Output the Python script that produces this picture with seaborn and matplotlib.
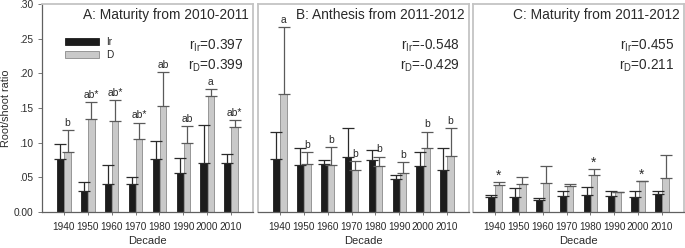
import numpy as np
import pandas as pd
import matplotlib
matplotlib.use("Agg")
import matplotlib.pyplot as plt
import seaborn as sns
from matplotlib.patches import Patch
from matplotlib.ticker import FuncFormatter

decades = ["1940", "1950", "1960", "1970", "1980", "1990", "2000", "2010"]

# panel A: maturity 2010-2011
a_ir = [0.076, 0.031, 0.040, 0.041, 0.077, 0.056, 0.071, 0.070]
a_ir_se = [0.022, 0.012, 0.028, 0.010, 0.026, 0.022, 0.054, 0.014]
a_d = [0.0865, 0.134, 0.131, 0.105, 0.153, 0.099, 0.167, 0.123]
a_d_se = [0.0315, 0.025, 0.031, 0.024, 0.049, 0.025, 0.010, 0.009]
a_lab = ["b", "ab*", "ab*", "ab*", "ab", "ab", "a", "ab*"]

# panel B: anthesis 2011-2012
b_ir = [0.077, 0.068, 0.0695, 0.080, 0.075, 0.0475, 0.066, 0.0605]
b_ir_se = [0.039, 0.025, 0.0055, 0.041, 0.015, 0.0065, 0.020, 0.0325]
b_d = [0.170, 0.0695, 0.068, 0.0605, 0.066, 0.056, 0.092, 0.081]
b_d_se = [0.097, 0.0165, 0.026, 0.0135, 0.014, 0.0155, 0.024, 0.040]
b_lab = ["a", "b", "b", "b", "b", "b", "b", "b"]

# panel C: maturity 2011-2012
c_ir = [0.022, 0.0215, 0.017, 0.0235, 0.025, 0.0225, 0.0215, 0.0255]
c_ir_se = [0.0025, 0.0125, 0.0035, 0.0065, 0.0105, 0.0085, 0.0095, 0.0045]
c_d = [0.039, 0.041, 0.042, 0.037, 0.054, 0.0288, 0.044, 0.049]
c_d_se = [0.004, 0.009, 0.025, 0.004, 0.0075, 0.0002, 0.001, 0.033]
c_lab = ["*", "", "", "", "*", "", "*", ""]

panels = [
    ("A: Maturity from 2010-2011", a_ir, a_ir_se, a_d, a_d_se, a_lab, "0.397", "0.399"),
    ("B: Anthesis from 2011-2012", b_ir, b_ir_se, b_d, b_d_se, b_lab, "-0.548", "-0.429"),
    ("C: Maturity from 2011-2012", c_ir, c_ir_se, c_d, c_d_se, c_lab, "0.455", "0.211"),
]

sns.set_style("white")
plt.rcParams["font.family"] = ["Liberation Sans", "DejaVu Sans"]
plt.rcParams["mathtext.fontset"] = "custom"
plt.rcParams["mathtext.rm"] = "Liberation Sans"

fig = plt.figure(figsize=(6.85, 2.48), dpi=100)
lefts = [42 / 685, 258 / 685, 473 / 685]
frame = "#c4c4c4"
axis_c = "#606060"
txt = "#2a2a2a"
ir_col, d_col = "#1c1c1c", "#c9c9c9"

for i, (title, ir, ir_se, d, d_se, lab, r_ir, r_d) in enumerate(panels):
    ax = fig.add_axes([lefts[i], 36 / 248, 211 / 685, 208 / 248])
    df = pd.DataFrame({
        "Decade": decades * 2,
        "ratio": ir + d,
        "group": ["Ir"] * 8 + ["D"] * 8,
    })
    sns.barplot(data=df, x="Decade", y="ratio", hue="group", hue_order=["Ir", "D"],
                palette={"Ir": ir_col, "D": d_col}, width=0.6, gap=0.1,
                errorbar=None, ax=ax, legend=False, saturation=1)
    for k, (cont, se) in enumerate(zip(ax.containers, [ir_se, d_se])):
        ec = "#2a2a2a" if k == 0 else "#5a5a5a"
        xs = [p.get_x() + p.get_width() / 2 for p in cont.patches]
        hs = [p.get_height() for p in cont.patches]
        for p in cont.patches:
            p.set_edgecolor(ir_col if k == 0 else "#8a8a8a")
            p.set_linewidth(0.6)
        ax.errorbar(xs, hs, yerr=[np.zeros(8), se], fmt="none", ecolor=ec,
                    elinewidth=0.9, capsize=4.6, capthick=0.9)
    dcont = ax.containers[1]
    for p, s, t in zip(dcont.patches, d_se, lab):
        if t == "*":
            ax.annotate(t, (p.get_x() + p.get_width() / 2, p.get_height() + s),
                        xytext=(0, -0.5), textcoords="offset points", ha="center",
                        va="bottom", fontsize=10, color=txt)
        elif t:
            ax.annotate(t, (p.get_x() + p.get_width() / 2, p.get_height() + s),
                        xytext=(0, 1.5), textcoords="offset points", ha="center",
                        va="bottom", fontsize=7.4, color=txt)

    ax.set_ylim(0, 0.30)
    ax.set_xlim(-0.92, 7.92)
    ax.text(0.98, 0.945, title, transform=ax.transAxes, ha="right", va="center",
            fontsize=9.9, color=txt)
    ax.text(0.955, 0.80, r"r$_{\mathrm{Ir}}$=" + r_ir, transform=ax.transAxes,
            ha="right", va="center", fontsize=9.8, color=txt)
    ax.text(0.955, 0.705, r"r$_{\mathrm{D}}$=" + r_d, transform=ax.transAxes,
            ha="right", va="center", fontsize=9.8, color=txt)

    ax.set_xlabel("Decade", fontsize=8, color=txt, labelpad=3)
    ax.tick_params(axis="x", length=2.5, width=0.6, color=axis_c, labelsize=7.2,
                   labelcolor=txt, pad=4.5, direction="out", bottom=True)
    for s in ["top", "right", "left"]:
        ax.spines[s].set_color(frame)
        ax.spines[s].set_linewidth(1.3)
    ax.spines["bottom"].set_color(axis_c)
    ax.spines["bottom"].set_linewidth(0.9)

    if i == 0:
        ax.spines["left"].set_color(axis_c)
        ax.spines["left"].set_linewidth(0.9)
        ax.set_yticks(np.arange(0, 0.31, 0.05))
        ax.yaxis.set_major_formatter(FuncFormatter(
            lambda v, pos: "0.00" if abs(v) < 1e-9 else f"{v:.2f}".lstrip("0")))
        ax.tick_params(axis="y", length=3, width=0.6, color=axis_c, labelsize=7.3,
                       labelcolor=txt, left=True, direction="out")
        ax.set_ylabel("Root/shoot ratio", fontsize=7.8, color=txt, labelpad=1.5)
        handles = [Patch(facecolor=ir_col, edgecolor=ir_col, linewidth=0.6, label="Ir"),
                   Patch(facecolor=d_col, edgecolor="#8a8a8a", linewidth=0.6, label="D")]
        ax.legend(handles=handles, loc="upper left", bbox_to_anchor=(0.09, 0.86),
                  frameon=False, fontsize=7.2, handlelength=3.4, handleheight=0.8,
                  labelspacing=0.3, handletextpad=0.7, borderaxespad=0)
    else:
        ax.set_yticks([])
        ax.set_ylabel("")

fig.savefig("out.png", dpi=100)
